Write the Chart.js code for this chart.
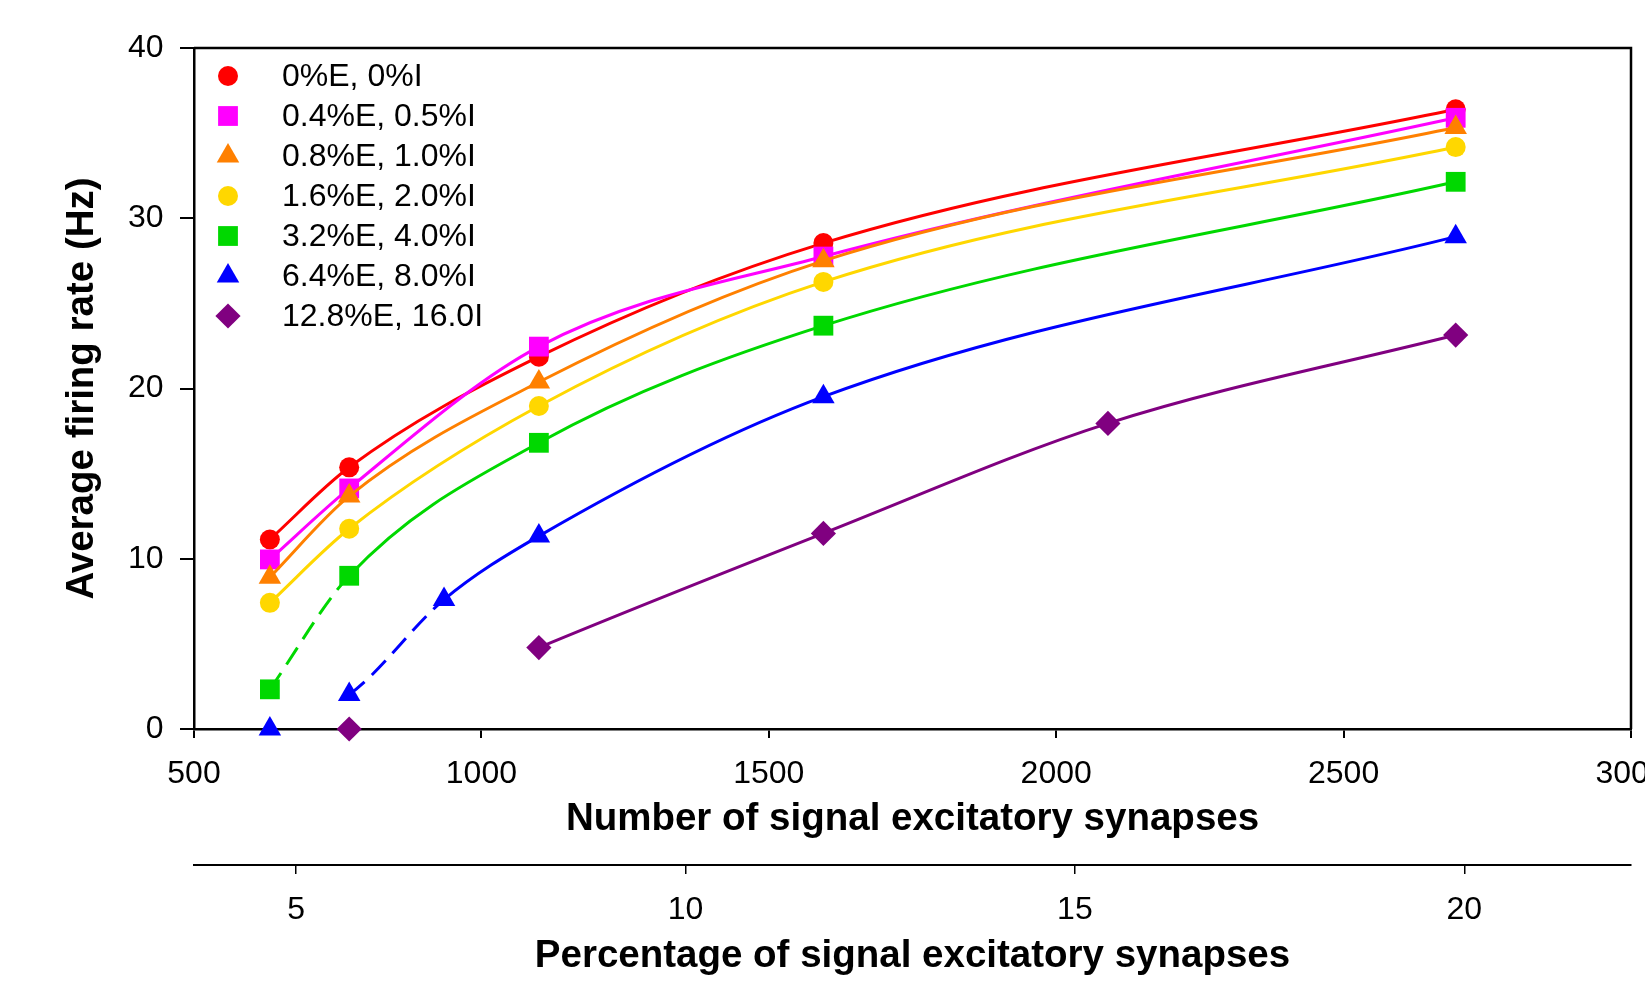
<!DOCTYPE html>
<html>
<head>
<meta charset="utf-8">
<title>Average firing rate vs signal excitatory synapses</title>
<script src="https://cdn.jsdelivr.net/npm/chart.js@4/dist/chart.umd.min.js"></script>
<style>
  html, body { margin: 0; padding: 0; background: #fff; overflow: hidden; }
  canvas { display: block; }
</style>
</head>
<body>
<canvas id="myChart" width="1645" height="981"></canvas>
<script>
// x positions (number of signal excitatory synapses)
const synapses = [632, 770, 1100, 1595, 2695];
const synapsesBlue = [632, 770, 935, 1100, 1595, 2695];
const synapsesPurple = [770, 1100, 1595, 2090, 2695];

// average firing rate (Hz)
const rate0 = [11.13, 15.37, 21.87, 28.54, 36.40];
const rate1 = [9.96, 14.13, 22.46, 27.75, 35.90];
const rate2 = [8.92, 13.68, 20.38, 27.50, 35.33];
const rate3 = [7.41, 11.76, 18.97, 26.26, 34.18];
const rate4 = [2.33, 9.00, 16.81, 23.69, 32.14];
const rate5 = [0, 2.02, 7.60, 11.33, 19.52, 28.92];
const rate6 = [0, 4.78, 11.49, 17.95, 23.14];

const seriesLabels = ['0%E, 0%I', '0.4%E, 0.5%I', '0.8%E, 1.0%I', '1.6%E, 2.0%I',
                      '3.2%E, 4.0%I', '6.4%E, 8.0%I', '12.8%E, 16.0I'];

const yTicks = [0, 10, 20, 30, 40];
const xTicks = [500, 1000, 1500, 2000, 2500, 3000];
const pctTicks = [5, 10, 15, 20];
const totalSynapses = 13550; // percentage axis = synapses / total

const FONT = '"Liberation Sans", Arial, sans-serif';

function pts(xs, ys) {
  return xs.map((x, i) => ({ x: x, y: ys[i] }));
}

// segment helpers: hide or dash the first segment
const dashFirst = ctx => ctx.p0DataIndex === 0 ? [20, 10] : undefined;
const hideFirst = ctx => ctx.p0DataIndex === 0 ? 'rgba(0,0,0,0)' : undefined;
const dashSecond = ctx => ctx.p0DataIndex === 1 ? [20, 10] : undefined;

const series = [
  { data: pts(synapses, rate0), color: '#FF0000', style: 'circle', r: 10 },
  { data: pts(synapses, rate1), color: '#FF00FF', style: 'rect', r: 14 },
  { data: pts(synapses, rate2), color: '#FF8000', style: 'triangle', r: 13 },
  { data: pts(synapses, rate3), color: '#FFD700', style: 'circle', r: 10 },
  { data: pts(synapses, rate4), color: '#00D800', style: 'rect', r: 14,
    segment: { borderDash: dashFirst } },
  { data: pts(synapsesBlue, rate5), color: '#0000FF', style: 'triangle', r: 13,
    segment: { borderColor: hideFirst, borderDash: dashSecond } },
  { data: pts(synapsesPurple, rate6), color: '#800080', style: 'rectRot', r: 12.6,
    segment: { borderColor: hideFirst } }
];

const datasets = series.map((s, i) => ({
  label: seriesLabels[i],
  data: s.data,
  showLine: true,
  borderColor: s.color,
  backgroundColor: s.color,
  borderWidth: 3,
  pointStyle: s.style,
  pointRadius: s.r,
  pointBorderWidth: 0,
  pointBackgroundColor: s.color,
  cubicInterpolationMode: 'monotone',
  tension: 0.4,
  clip: false,
  order: 20 - i,
  segment: s.segment || {}
}));

// legend drawn inside the plot, top-left
const innerLegend = {
  id: 'innerLegend',
  afterDatasetsDraw(chart) {
    const { ctx, chartArea } = chart;
    ctx.save();
    ctx.font = '32px ' + FONT;
    ctx.textBaseline = 'middle';
    ctx.textAlign = 'left';
    chart.data.datasets.forEach((ds, i) => {
      const y = chartArea.top + 28 + i * 40;
      ctx.fillStyle = ds.backgroundColor;
      ctx.strokeStyle = ds.backgroundColor;
      Chart.helpers.drawPoint(ctx, {
        pointStyle: ds.pointStyle, radius: ds.pointRadius, rotation: 0, borderWidth: 0
      }, chartArea.left + 34, y);
      ctx.fillStyle = '#000';
      ctx.fillText(ds.label, chartArea.left + 88, y + 1);
    });
    ctx.restore();
  }
};

// top and right border of the plot box
const frame = {
  id: 'frame',
  beforeDatasetsDraw(chart) {
    const { ctx, chartArea: a } = chart;
    ctx.save();
    ctx.strokeStyle = '#000';
    ctx.lineWidth = 2.5;
    ctx.beginPath();
    ctx.moveTo(a.left, a.top);
    ctx.lineTo(a.right, a.top);
    ctx.lineTo(a.right, a.bottom);
    ctx.stroke();
    ctx.restore();
  }
};

const tickFont = { family: FONT, size: 32 };
const titleFont = { family: FONT, size: 38.5, weight: 'bold' };
const plain = v => String(v);

new Chart(document.getElementById('myChart').getContext('2d'), {
  type: 'scatter',
  data: { datasets: datasets },
  plugins: [frame, innerLegend],
  options: {
    responsive: false,
    animation: false,
    events: [],
    layout: { padding: { top: 48, right: 14, bottom: 0, left: 0 } },
    plugins: { legend: { display: false }, tooltip: { enabled: false } },
    scales: {
      x: {
        type: 'linear',
        position: 'bottom',
        weight: 0,
        min: xTicks[0],
        max: xTicks[xTicks.length - 1],
        afterBuildTicks: s => { s.ticks = xTicks.map(v => ({ value: v })); },
        afterFit: s => { s.height = 136; s.paddingLeft = 0; s.paddingRight = 0; },
        grid: { drawOnChartArea: false, drawTicks: true, tickLength: 9, color: '#000', lineWidth: 2 },
        border: { display: true, color: '#000', width: 2.5 },
        ticks: { color: '#000', font: tickFont, padding: 17, maxRotation: 0, autoSkip: false, callback: plain },
        title: { display: true, text: 'Number of signal excitatory synapses', color: '#000',
                 font: titleFont, padding: { top: 0, bottom: 22.5 } }
      },
      x2: {
        type: 'linear',
        axis: 'x',
        position: 'bottom',
        weight: 1,
        min: xTicks[0] / totalSynapses * 100,
        max: xTicks[xTicks.length - 1] / totalSynapses * 100,
        afterBuildTicks: s => { s.ticks = pctTicks.map(v => ({ value: v })); },
        afterFit: s => { s.height = 116; s.paddingLeft = 0; s.paddingRight = 0; },
        grid: { drawOnChartArea: false, drawTicks: true, tickLength: 9, color: '#000', lineWidth: 1.5 },
        border: { display: true, color: '#000', width: 2 },
        ticks: { color: '#000', font: tickFont, padding: 16.5, maxRotation: 0, autoSkip: false, callback: plain },
        title: { display: true, text: 'Percentage of signal excitatory synapses', color: '#000',
                 font: titleFont, padding: { top: 0, bottom: 2 } }
      },
      y: {
        type: 'linear',
        min: yTicks[0],
        max: yTicks[yTicks.length - 1],
        afterBuildTicks: s => { s.ticks = yTicks.map(v => ({ value: v })); },
        afterFit: s => { s.width = 194; s.paddingTop = 0; s.paddingBottom = 0; },
        grid: { drawOnChartArea: false, drawTicks: true, tickLength: 14, color: '#000', lineWidth: 2 },
        border: { display: true, color: '#000', width: 2.5 },
        ticks: { color: '#000', font: tickFont, padding: 16.5, callback: plain },
        title: { display: true, text: 'Average firing rate (Hz)', color: '#000',
                 font: titleFont, padding: { top: 59, bottom: 0 } }
      }
    }
  }
});
</script>
</body>
</html>
